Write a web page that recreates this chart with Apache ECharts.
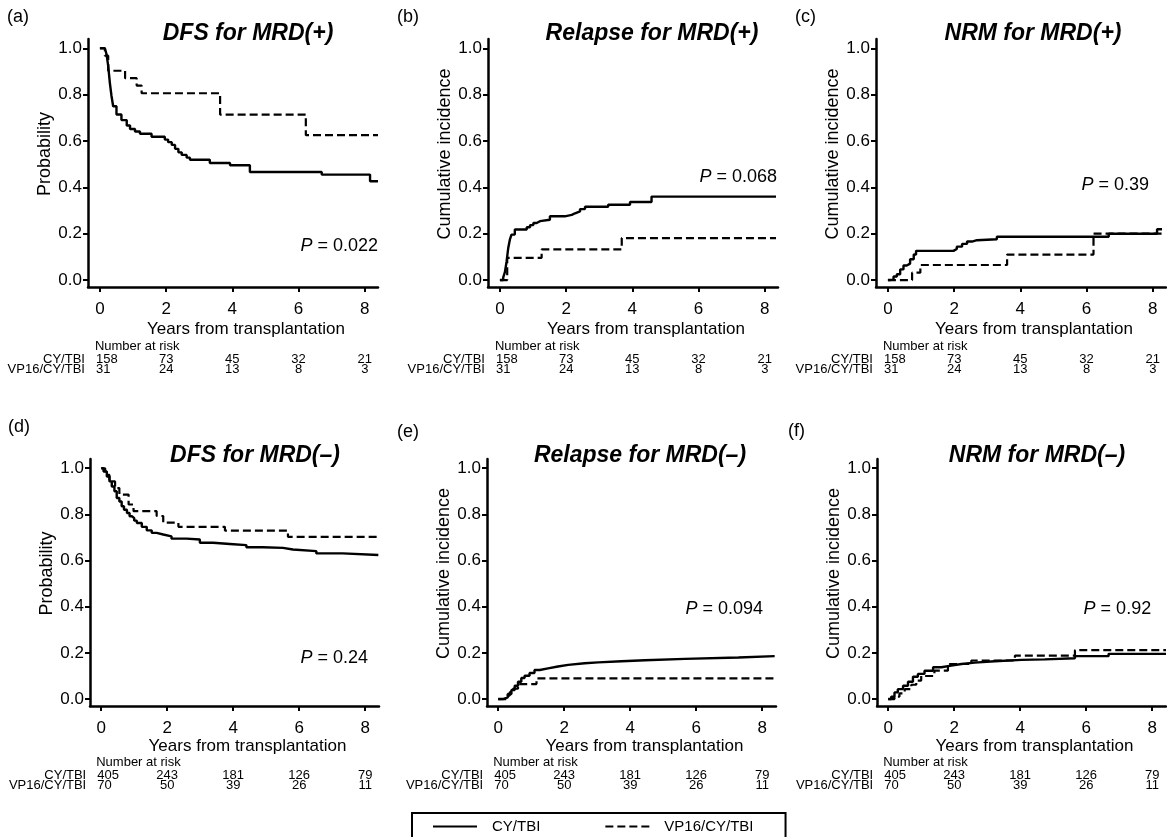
<!DOCTYPE html>
<html>
<head>
<meta charset="utf-8">
<script src="https://cdn.jsdelivr.net/npm/echarts@6/dist/echarts.min.js"></script>
<style>
  html, body { margin: 0; padding: 0; background: #fff; }
  #chart { width: 1167px; height: 837px; }
</style>
</head>
<body>
<div id="chart"></div>
<script>
// 刻度与分组
var riskYears = [0, 2, 4, 6, 8];
var yTicks = [0, 0.2, 0.4, 0.6, 0.8, 1.0];
var groupNames = ['CY/TBI', 'VP16/CY/TBI'];

// 风险人数 (Number at risk)
var riskPosCY = [158, 73, 45, 32, 21];
var riskPosVP = [31, 24, 13, 8, 3];
var riskNegCY = [405, 243, 181, 126, 79];
var riskNegVP = [70, 50, 39, 26, 11];

// (a) DFS for MRD(+)  [年, 概率]
var dfsPosCY = [[0,1],[0.15,0.996],[0.2,0.974],[0.25,0.924],[0.3,0.851],[0.35,0.794],[0.4,0.75],[0.5,0.714],
  [0.65,0.69],[0.81,0.667],[0.91,0.652],[1.06,0.641],[1.21,0.631],[1.56,0.618],[1.96,0.606],[2.06,0.595],
  [2.17,0.583],[2.27,0.566],[2.37,0.551],[2.47,0.54],[2.62,0.528],[2.72,0.519],[3.32,0.505],[3.93,0.495],
  [4.53,0.466],[6.7,0.455],[8.16,0.426],[8.4,0.426]];
var dfsPosVP = [[0,1],[0.15,0.968],[0.25,0.903],[0.76,0.871],[1.11,0.839],[1.26,0.806],[3.63,0.714],[6.22,0.625],[8.4,0.625]];

// (b) Relapse for MRD(+)
var relPosCY = [[0,0],[0.1,0.012],[0.15,0.034],[0.2,0.078],[0.25,0.137],[0.3,0.174],[0.35,0.196],[0.45,0.218],
  [0.81,0.228],[0.91,0.237],[1.01,0.246],[1.11,0.254],[1.21,0.26],[1.51,0.275],[1.96,0.281],[2.17,0.288],
  [2.27,0.296],[2.42,0.306],[2.57,0.316],[3.27,0.325],[3.93,0.337],[4.58,0.36],[8.34,0.36]];
var relPosVP = [[0,0],[0.22,0.096],[1.26,0.132],[3.68,0.181],[8.34,0.181]];

// (c) NRM for MRD(+)
var nrmPosCY = [[0,0],[0.07,0.004],[0.17,0.015],[0.27,0.025],[0.37,0.046],[0.47,0.063],[0.57,0.071],[0.67,0.09],
  [0.78,0.11],[0.85,0.126],[1.98,0.134],[2.08,0.144],[2.24,0.156],[2.39,0.166],[2.54,0.172],[2.69,0.176],
  [3.29,0.187],[6.67,0.2],[8.13,0.219],[8.28,0.219]];
var nrmPosVP = [[0,0],[0.73,0.032],[0.98,0.065],[3.6,0.11],[6.21,0.2],[8.28,0.2]];

// (d) DFS for MRD(–)
var dfsNegCY = [[0,1],[0.07,0.986],[0.17,0.964],[0.25,0.943],[0.32,0.921],[0.4,0.9],[0.47,0.871],[0.55,0.856],
  [0.62,0.835],[0.69,0.82],[0.78,0.806],[0.86,0.792],[0.93,0.784],[1.0,0.773],[1.08,0.763],[1.23,0.746],
  [1.38,0.731],[1.53,0.72],[1.68,0.713],[1.88,0.705],[2.13,0.695],[2.59,0.691],[2.99,0.677],[3.39,0.672],
  [3.9,0.667],[4.4,0.658],[4.9,0.655],[5.51,0.648],[5.81,0.641],[6.52,0.631],[7.32,0.624],[8.4,0.624]];
var dfsNegVP = [[0,1],[0.12,0.971],[0.25,0.943],[0.42,0.914],[0.55,0.886],[0.83,0.843],[0.98,0.814],[1.68,0.793],
  [1.88,0.764],[2.34,0.746],[3.75,0.73],[5.66,0.703],[8.4,0.703]];

// (e) Relapse for MRD(–)
var relNegCY = [[0,0],[0.14,0],[0.19,0.007],[0.29,0.022],[0.4,0.039],[0.5,0.058],[0.6,0.075],[0.7,0.091],
  [0.8,0.101],[0.95,0.113],[1.1,0.126],[1.26,0.133],[1.51,0.141],[1.81,0.148],[2.12,0.155],[2.62,0.159],
  [3.03,0.164],[3.74,0.168],[4.45,0.174],[5.66,0.18],[7.28,0.186],[8.38,0.186]];
var relNegVP = [[0,0],[0.14,0],[0.25,0.015],[0.35,0.03],[0.45,0.045],[0.6,0.065],[1.16,0.09],[8.38,0.09]];

// (f) NRM for MRD(–)
var nrmNegCY = [[0,0],[0.09,0.01],[0.19,0.029],[0.29,0.043],[0.45,0.058],[0.6,0.075],[0.75,0.097],[0.9,0.109],
  [1.1,0.123],[1.36,0.138],[1.61,0.145],[1.91,0.152],[2.22,0.158],[2.62,0.164],[3.23,0.17],[4.04,0.172],
  [4.75,0.177],[5.66,0.186],[6.68,0.196],[8.42,0.196]];
var nrmNegVP = [[0,0],[0.19,0.01],[0.34,0.025],[0.5,0.043],[0.7,0.062],[0.85,0.08],[1.0,0.1],[1.4,0.123],
  [1.81,0.152],[2.52,0.167],[3.84,0.188],[5.66,0.212],[8.42,0.212]];

var font = 'Liberation Sans, Arial, Helvetica, sans-serif';

// 每个面板的配置（布局在这里，数据引用上面的数组）
var panels = [
  { tag: '(a)', title: 'DFS for MRD(+)', yName: 'Probability', cy: dfsPosCY, vp: dfsPosVP, riskCY: riskPosCY, riskVP: riskPosVP,
    p: '0.022', pAt: [8.4, 0.147], left: 88, top: 39, tagX: 7, tagY: 17, titleX: 248, titleY: 34 },
  { tag: '(b)', title: 'Relapse for MRD(+)', yName: 'Cumulative incidence', cy: relPosCY, vp: relPosVP, riskCY: riskPosCY, riskVP: riskPosVP,
    p: '0.068', pAt: [8.37, 0.445], left: 488, top: 39, tagX: 397, tagY: 17, titleX: 652, titleY: 34 },
  { tag: '(c)', title: 'NRM for MRD(+)', yName: 'Cumulative incidence', cy: nrmPosCY, vp: nrmPosVP, riskCY: riskPosCY, riskVP: riskPosVP,
    p: '0.39', pAt: [7.89, 0.41], left: 876, top: 39, tagX: 795, tagY: 17, titleX: 1033, titleY: 34 },
  { tag: '(d)', title: 'DFS for MRD(–)', yName: 'Probability', cy: dfsNegCY, vp: dfsNegVP, riskCY: riskNegCY, riskVP: riskNegVP,
    p: '0.24', pAt: [8.09, 0.178], left: 90, top: 459, tagX: 8, tagY: 427, titleX: 255, titleY: 456 },
  { tag: '(e)', title: 'Relapse for MRD(–)', yName: 'Cumulative incidence', cy: relNegCY, vp: relNegVP, riskCY: riskNegCY, riskVP: riskNegVP,
    p: '0.094', pAt: [8.03, 0.39], left: 487, top: 459, tagX: 397, tagY: 432, titleX: 640, titleY: 456 },
  { tag: '(f)', title: 'NRM for MRD(–)', yName: 'Cumulative incidence', cy: nrmNegCY, vp: nrmNegVP, riskCY: riskNegCY, riskVP: riskNegVP,
    p: '0.92', pAt: [7.97, 0.39], left: 877, top: 459, tagX: 788, tagY: 431, titleX: 1037, titleY: 456 }
];

var chart = echarts.init(document.getElementById('chart'));

var grids = [], xAxes = [], yAxes = [], series = [];
panels.forEach(function (p, i) {
  var bottomRow = i >= 3;
  grids.push({ left: p.left, top: p.top, width: bottomRow ? 289 : 290, height: bottomRow ? 247 : 248,
    containLabel: false, outerBoundsMode: 'none' });
  xAxes.push({
    gridIndex: i, type: 'value',
    min: bottomRow ? -0.34 : -0.36, max: bottomRow ? 8.42 : 8.4,
    axisLine: { show: true, onZero: false, lineStyle: { color: '#000', width: 2.5 } },
    axisTick: { show: true, length: 5, customValues: riskYears, lineStyle: { color: '#000', width: 2 } },
    axisLabel: { customValues: riskYears, color: '#000', fontSize: 17, fontFamily: font, margin: 14 },
    splitLine: { show: false },
    name: 'Years from transplantation', nameLocation: 'middle', nameGap: bottomRow ? 31 : 34,
    nameTextStyle: { color: '#000', fontSize: 17, fontFamily: font, padding: [0, 0, 0, 26] }
  });
  yAxes.push({
    gridIndex: i, type: 'value', min: -0.03, max: 1.04,
    axisLine: { show: true, onZero: false, lineStyle: { color: '#000', width: 2.5 } },
    axisTick: { show: true, length: 5, customValues: yTicks, lineStyle: { color: '#000', width: 2 } },
    axisLabel: { customValues: yTicks, color: '#000', fontSize: 17, fontFamily: font, margin: 6,
      formatter: function (v) { return v.toFixed(1); } },
    splitLine: { show: false },
    name: p.yName, nameLocation: 'middle', nameGap: 34, nameRotate: 90,
    nameTextStyle: { color: '#000', fontSize: 18, fontFamily: font, padding: [0, 0, 0, 18] }
  });
  series.push({
    name: groupNames[0], type: 'line', xAxisIndex: i, yAxisIndex: i, data: p.cy,
    step: 'end', symbol: 'none', silent: true,
    itemStyle: { color: '#000' },
    lineStyle: { color: '#000', width: 2.4, type: 'solid' }
  });
  series.push({
    name: groupNames[1], type: 'line', xAxisIndex: i, yAxisIndex: i, data: p.vp,
    step: 'end', symbol: 'none', silent: true,
    itemStyle: { color: '#000' },
    lineStyle: { color: '#000', width: 2.2, type: [8, 4] }
  });
});

var option = {
  animation: false,
  backgroundColor: '#fff',
  grid: grids,
  xAxis: xAxes,
  yAxis: yAxes,
  series: series,
  legend: {
    data: groupNames, left: 412, top: 813, orient: 'horizontal',
    itemWidth: 44, itemHeight: 14, itemGap: 64,
    padding: [6, 32, 30, 20],
    borderColor: '#000', borderWidth: 2,
    selectedMode: false,
    itemStyle: { opacity: 0, borderWidth: 0 },
    lineStyle: { color: '#000' },
    textStyle: { color: '#000', fontSize: 15, fontFamily: font, padding: [0, 0, 0, 10] }
  }
};
chart.setOption(option);

// 第二遍：标题、标签、P 值与风险表（文字）
function txt(x, y, text, size, align, extra) {
  var st = { text: text, x: x, y: y, fill: '#000', fontSize: size, fontFamily: font,
    align: align, textAlign: align, verticalAlign: 'middle', textVerticalAlign: 'middle' };
  if (extra) { for (var k in extra) st[k] = extra[k]; }
  return { type: 'text', silent: true, style: st };
}

var graphics = [];
panels.forEach(function (p, i) {
  var bottomRow = i >= 3;
  graphics.push(txt(p.tagX, p.tagY, p.tag, 18, 'left'));
  graphics.push(txt(p.titleX, p.titleY, p.title, 23, 'center', { fontWeight: 'bold', fontStyle: 'italic' }));

  var pp = chart.convertToPixel({ gridIndex: i }, p.pAt);
  graphics.push(txt(pp[0], pp[1], '{i|P} = ' + p.p, 18, 'right',
    { rich: { i: { fontStyle: 'italic', fontSize: 18, fontFamily: font, fill: '#000' } } }));

  var axisY = p.top + (bottomRow ? 247 : 248);
  var off = bottomRow ? [56, 69, 79] : [59, 72, 82];
  var x0 = chart.convertToPixel({ gridIndex: i }, [0, 0])[0];
  graphics.push(txt(x0 - 5, axisY + off[0], 'Number at risk', 13, 'left'));
  graphics.push(txt(x0 - 15, axisY + off[1], groupNames[0], 13, 'right'));
  graphics.push(txt(x0 - 15, axisY + off[2], groupNames[1], 13, 'right'));
  riskYears.forEach(function (yr, k) {
    var px = chart.convertToPixel({ gridIndex: i }, [yr, 0])[0];
    var al = k === 0 ? 'left' : 'center';
    var xx = k === 0 ? px - 4 : px;
    graphics.push(txt(xx, axisY + off[1], String(p.riskCY[k]), 13, al));
    graphics.push(txt(xx, axisY + off[2], String(p.riskVP[k]), 13, al));
  });
});
chart.setOption({ graphic: graphics });

window.addEventListener('resize', function () {
  chart.resize();
});
</script>
</body>
</html>
